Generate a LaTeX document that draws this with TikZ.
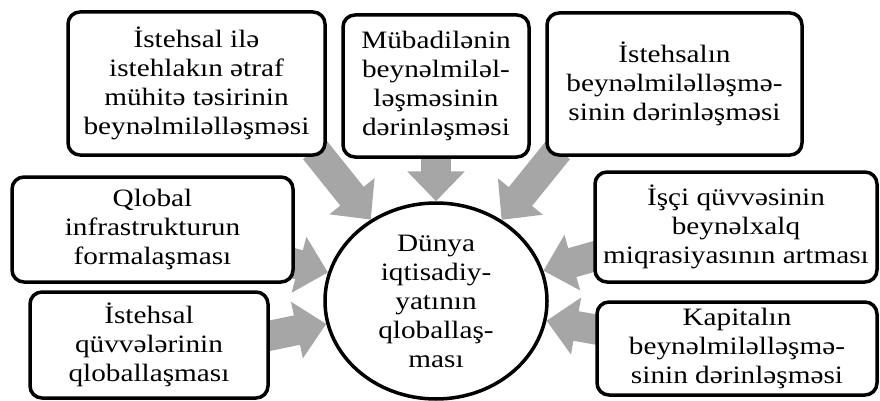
\documentclass[tikz,border=0pt]{standalone}
\usepackage{fontspec}
\setmainfont{Liberation Serif}[FakeStretch=1.17]
\usetikzlibrary{shapes.geometric,arrows.meta,backgrounds}
\definecolor{arrowgray}{RGB}{166,166,166}

\begin{document}
\begin{tikzpicture}[x=1pt, y=-1pt,
    box/.style={draw, line width=3.5pt, rounded corners=12pt, fill=white, align=center,
      inner sep=0pt, font=\fontsize{25}{29}\selectfont},
    hub/.style={ellipse, draw, line width=3.5pt, fill=white, align=center, inner sep=0pt,
      minimum width=222pt, minimum height=196pt, font=\fontsize{25}{29}\selectfont},
    push/.style={draw=arrowgray, line width=30pt, -{Triangle[width=56pt,length=30pt]}}]
  \useasboundingbox (0,0) rectangle (880,401);
  % centre
  \node[hub] (hub) at (436,301) {Dünya\\iqtisadiy-\\yatının\\qloballaş-\\ması};
  % top row
  \node[box, minimum width=257pt, minimum height=143pt] (envir) at (196.5,83.5)
    {İstehsal ilə\\istehlakın ətraf\\mühitə təsirinin\\beynəlmiləlləşməsi};
  \node[box, minimum width=186pt, minimum height=142pt] (trade) at (436,86)
    {Mübadilənin\\beynəlmiləl-\\ləşməsinin\\dərinləşməsi};
  \node[box, minimum width=255pt, minimum height=142pt] (prod) at (674.5,84)
    {İstehsalın\\beynəlmiləlləşmə-\\sinin dərinləşməsi};
  % left side
  \node[box, minimum width=281pt, minimum height=105pt] (infra) at (152.5,229.5)
    {Qlobal\\infrastrukturun\\formalaşması};
  \node[box, minimum width=238pt, minimum height=106pt] (forces) at (149,345)
    {İstehsal\\qüvvələrinin\\qloballaşması};
  % right side
  \node[box, minimum width=282pt, minimum height=110pt] (labour) at (736,227)
    {İşçi qüvvəsinin\\beynəlxalq\\miqrasiyasının artması};
  \node[box, minimum width=280pt, minimum height=93pt] (capital) at (737,348.5)
    {Kapitalın\\beynəlmiləlləşmə-\\sinin dərinləşməsi};
  % arrows
  \begin{scope}[on background layer]
    \draw[push] ([shift={(-12,-7)}]envir.south east) -- (hub);
    \draw[push] (trade.south) -- (hub);
    \draw[push] ([shift={(13,-7)}]prod.south west) -- (hub);
    \draw[push] ([shift={(-8,32)}]infra.east) -- (hub);
    \draw[push] ([shift={(-6,-8)}]forces.east) -- (hub);
    \draw[push] ([shift={(6,28)}]labour.west) -- (hub);
    \draw[push] ([shift={(6,-18)}]capital.west) -- (hub);
  \end{scope}
\end{tikzpicture}
\end{document}
